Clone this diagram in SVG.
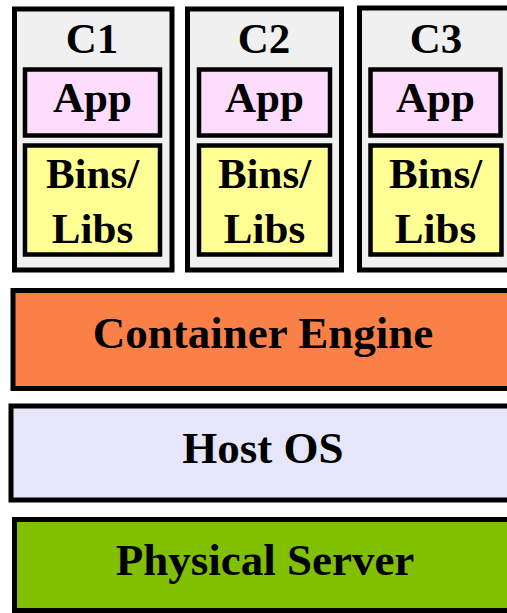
<svg xmlns="http://www.w3.org/2000/svg" width="507" height="613" viewBox="0 0 507 613">
  <style>
    .box { stroke: #000; stroke-width: 5; }
    .inner { stroke: #000; stroke-width: 4.5; }
    .ctr { fill: #f0f0f0; }
    .app { fill: #fddcfd; }
    .libs { fill: #ffff94; }
    .engine { fill: #fa8048; }
    .os { fill: #e6e6fa; }
    .hw { fill: #80c000; }
    text { font-family: "Liberation Serif", "Times New Roman", serif; font-weight: bold; fill: #000; text-anchor: middle; }
    .lbl { font-size: 43px; }
    .layer { font-size: 45px; }
  </style>
  <rect width="507" height="613" fill="#fff"/>

  <!-- container C1 -->
  <g id="c1">
    <rect class="box ctr" x="14.5" y="9" width="157.5" height="261"/>
    <text class="lbl" x="92" y="53">C1</text>
    <rect class="inner app" x="25" y="69.5" width="135" height="66"/>
    <text class="lbl" x="92.5" y="112">App</text>
    <rect class="inner libs" x="25" y="145.5" width="135" height="109"/>
    <text class="lbl" x="92.5" y="188">Bins/</text>
    <text class="lbl" x="92.5" y="243">Libs</text>
  </g>

  <!-- container C2 -->
  <g id="c2">
    <rect class="box ctr" x="187.5" y="9" width="154" height="261"/>
    <text class="lbl" x="264" y="53">C2</text>
    <rect class="inner app" x="199" y="69.5" width="131" height="66"/>
    <text class="lbl" x="264.5" y="112">App</text>
    <rect class="inner libs" x="199" y="145.5" width="131" height="109"/>
    <text class="lbl" x="264.5" y="188">Bins/</text>
    <text class="lbl" x="264.5" y="243">Libs</text>
  </g>

  <!-- container C3 (runs past the right edge) -->
  <g id="c3">
    <rect class="box ctr" x="359.5" y="8" width="160" height="262"/>
    <text class="lbl" x="436" y="53">C3</text>
    <rect class="inner app" x="370.5" y="69.5" width="130" height="66"/>
    <text class="lbl" x="435.5" y="112">App</text>
    <rect class="inner libs" x="370.5" y="145.5" width="131" height="109"/>
    <text class="lbl" x="435.5" y="188">Bins/</text>
    <text class="lbl" x="435.5" y="243">Libs</text>
  </g>

  <!-- stack layers -->
  <g id="container-engine">
    <rect class="box engine" x="13" y="290.5" width="510" height="98"/>
    <text class="layer" x="263" y="348">Container Engine</text>
  </g>
  <g id="host-os">
    <rect class="box os" x="11" y="406" width="512" height="94"/>
    <text class="layer" x="263" y="463">Host OS</text>
  </g>
  <g id="physical-server">
    <rect class="box hw" x="14.5" y="519.5" width="510" height="91"/>
    <text class="layer" x="265" y="575">Physical Server</text>
  </g>

  <g id="connectors"/>
</svg>
